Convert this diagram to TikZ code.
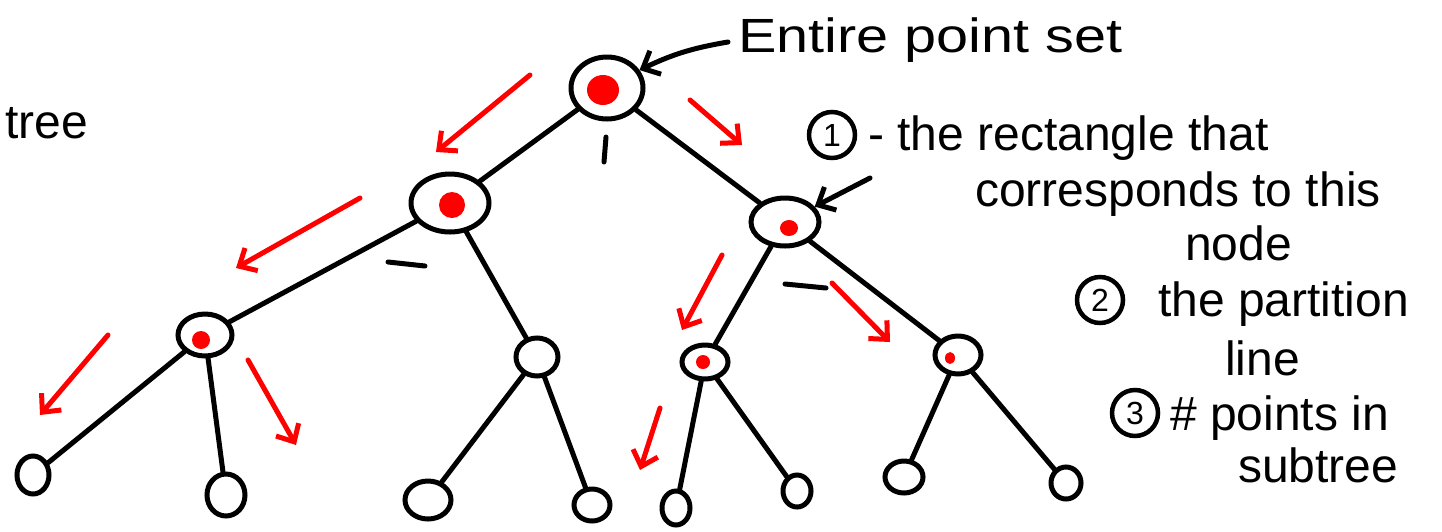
\documentclass[tikz,border=0pt]{standalone}
\usepackage{fontspec}
\setmainfont{Liberation Sans}
\usetikzlibrary{shapes.geometric,arrows.meta}
\begin{document}
\begin{tikzpicture}[x=1pt,y=-1pt,
  tnode/.style={draw=black,line width=5pt,ellipse,inner sep=0pt},
  edge/.style={draw=black,line width=5pt,line cap=round},
  redarrow/.style={draw=red,line width=5pt,line cap=round,-{Straight Barb[length=14pt,width=26pt,line width=5pt]}},
  blackarrow/.style={draw=black,line width=5pt,line cap=round,-{Straight Barb[length=14pt,width=26pt,line width=5pt]}},
  redfill/.style={fill=red,draw=none,ellipse,inner sep=0pt},
  lbl/.style={font=\fontsize{48}{50}\selectfont,inner sep=0pt,anchor=base west},
  num/.style={draw=black,line width=4.5pt,circle,minimum size=46pt,inner sep=0pt,font=\fontsize{32}{34}\selectfont}
]
\useasboundingbox (0,0) rectangle (1442,531);
% red marks inside nodes
\node[redfill,minimum width=32pt,minimum height=30pt] (r0) at (603,90) {};
\node[redfill,minimum width=26pt,minimum height=26pt] (r1) at (452,205) {};
\node[redfill,minimum width=18pt,minimum height=16pt] (r2) at (789,228) {};
\node[redfill,minimum width=18pt,minimum height=18pt] (r3) at (201,340) {};
\node[redfill,minimum width=14pt,minimum height=14pt] (r4) at (703,362) {};
\node[redfill,minimum width=10pt,minimum height=12pt] (r5) at (950,358) {};
% tree nodes
\node[tnode,minimum width=72pt,minimum height=62pt] (root) at (607,88) {};
\node[tnode,minimum width=78pt,minimum height=58pt] (a) at (450,203) {};
\node[tnode,minimum width=68pt,minimum height=48pt] (b) at (785,222) {};
\node[tnode,minimum width=54pt,minimum height=42pt] (aa) at (205,335) {};
\node[tnode,minimum width=42pt,minimum height=38pt] (ab) at (537,357) {};
\node[tnode,minimum width=46pt,minimum height=34pt] (ba) at (705,362) {};
\node[tnode,minimum width=46pt,minimum height=38pt] (bb) at (958,355) {};
\node[tnode,minimum width=32pt,minimum height=38pt] (aaa) at (33,475) {};
\node[tnode,minimum width=38pt,minimum height=42pt] (aab) at (226,495) {};
\node[tnode,minimum width=46pt,minimum height=38pt] (aba) at (428,500) {};
\node[tnode,minimum width=36pt,minimum height=32pt] (abb) at (592,505) {};
\node[tnode,minimum width=28pt,minimum height=34pt] (baa) at (676,508) {};
\node[tnode,minimum width=28pt,minimum height=32pt] (bab) at (797,491) {};
\node[tnode,minimum width=38pt,minimum height=32pt] (bba) at (904,477) {};
\node[tnode,minimum width=30pt,minimum height=32pt] (bbb) at (1066,483) {};
% edges
\draw[edge] (root) -- (a);
\draw[edge] (root) -- (b);
\draw[edge] (a) -- (aa);
\draw[edge] (a) -- (ab);
\draw[edge] (b) -- (ba);
\draw[edge] (b) -- (bb);
\draw[edge] (aa) -- (aaa);
\draw[edge] (aa) -- (aab);
\draw[edge] (ab) -- (aba);
\draw[edge] (ab) -- (abb);
\draw[edge] (ba) -- (baa);
\draw[edge] (ba) -- (bab);
\draw[edge] (bb) -- (bba);
\draw[edge] (bb) -- (bbb);
% partition dashes and label 1
\coordinate (d1s) at (388,262); \coordinate (d1e) at (425,266);
\draw[edge] (d1s) -- (d1e);
\coordinate (d2s) at (785,284); \coordinate (d2e) at (826,288);
\draw[edge] (d2s) -- (d2e);
\coordinate (one1) at (606,137); \coordinate (one2) at (604,162);
\draw[edge] (one1) -- (one2);
% red arrows
\coordinate (ra1s) at (530,75);  \coordinate (ra1e) at (436,152);
\coordinate (ra2s) at (690,100); \coordinate (ra2e) at (742,145);
\coordinate (ra3s) at (360,198); \coordinate (ra3e) at (236,268);
\coordinate (ra4s) at (108,335); \coordinate (ra4e) at (40,415);
\coordinate (ra5s) at (248,360); \coordinate (ra5e) at (296,445);
\coordinate (ra6s) at (722,255); \coordinate (ra6e) at (682,330);
\coordinate (ra7s) at (832,283); \coordinate (ra7e) at (890,342);
\coordinate (ra8s) at (660,408); \coordinate (ra8e) at (640,470);
\draw[redarrow] (ra1s) -- (ra1e);
\draw[redarrow] (ra2s) -- (ra2e);
\draw[redarrow] (ra3s) -- (ra3e);
\draw[redarrow] (ra4s) -- (ra4e);
\draw[redarrow] (ra5s) -- (ra5e);
\draw[redarrow] (ra6s) -- (ra6e);
\draw[redarrow] (ra7s) -- (ra7e);
\draw[redarrow] (ra8s) -- (ra8e);
% labels
\node[lbl] (tree) at (5,138) {tree};
\node[lbl,xscale=1.2] (entire) at (738,52) {Entire point set};
\coordinate (ea) at (728,42);
\draw[blackarrow] (ea) to[bend right=8] (root);
\node[num] (n1) at (832,135) {1};
\node[lbl] (l1a) at (868,150) {- the rectangle that};
\node[lbl] (l1b) at (975,206) {corresponds to this};
\node[lbl] (l1c) at (1185,260) {node};
\coordinate (pa) at (870,178);
\draw[blackarrow] (pa) -- (b);
\node[num] (n2) at (1100,300) {2};
\node[lbl] (l2a) at (1158,316) {the partition};
\node[lbl] (l2b) at (1225,375) {line};
\node[num] (n3) at (1135,413) {3};
\node[lbl] (l3a) at (1170,430) {\# points in};
\node[lbl] (l3b) at (1238,482) {subtree};
\end{tikzpicture}
\end{document}
